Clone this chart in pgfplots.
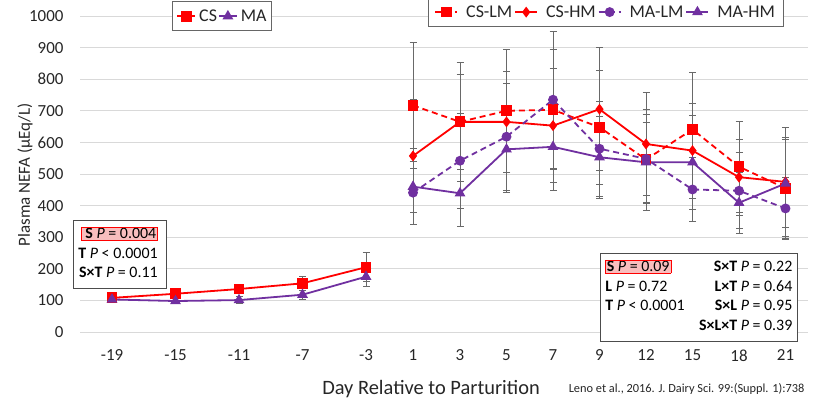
\documentclass[border=0pt]{standalone}
\usepackage{fontspec}
\setmainfont{Carlito}
\usepackage{pgfplots}
\pgfplotsset{compat=1.18}

\definecolor{csred}{RGB}{255,0,0}
\definecolor{mapurple}{RGB}{112,48,160}
\definecolor{gridgray}{RGB}{217,217,217}
\definecolor{errgray}{RGB}{105,105,105}
\definecolor{hilite}{RGB}{248,190,190}

% shared frame: 1 data unit on x = 1 px of the reference
\pgfplotsset{
  frame/.style={
    at={(80bp,75bp)}, anchor=south west,
    scale only axis, width=728bp, height=316bp,
    xmin=80, xmax=808, ymin=0, ymax=1000,
    axis line style={draw=none},
    major tick length=0pt,
    clip=false,
    legend cell align=left,
    legend style={draw=black!60, line width=0.8bp, font=\fontsize{18}{21}\selectfont,
      text=black!85, legend columns=-1, inner ysep=6bp},
  },
  legimg/.style={legend image code/.code={%
    \draw[mark repeat=2, mark phase=2, ##1] plot coordinates {(0bp,0bp) (#1/2,0bp) (#1,0bp)};}},
  errs/.style={
    error bars/.cd, y dir=both, y explicit,
    error bar style={errgray, line width=0.8bp, solid},
    error mark options={errgray, line width=0.8bp, mark size=3.5bp, rotate=90, solid},
  },
  lm/.style={dash pattern=on 6bp off 4bp},
}

\begin{document}
\begin{tikzpicture}
\path[use as bounding box] (0,0) rectangle (831bp,407bp);

% pre-partum: CS vs MA
\begin{axis}[frame,
  ymajorgrids, grid style={gridgray, line width=0.9bp},
  ytick={0,100,...,1000},
  xtick={112,175.5,239,302.5,366,413,460,506.5,553,599.5,646,692.5,739,785.5},
  xticklabels={-19,-15,-11,-7,-3,1,3,5,7,9,12,15,18,21},
  tick label style={font=\fontsize{17}{20}\selectfont, text=black!85},
  /pgf/number format/assume math mode=true,
  /pgf/number format/1000 sep={},
  yticklabel style={xshift=-13bp},
  xticklabel style={yshift=-14bp},
  legimg=18bp,
  legend style={at={(axis cs:172,952)}, anchor=south west, inner xsep=4bp,
    nodes={inner xsep=1bp}, /tikz/every odd column/.append style={column sep=2bp}},
]
\addplot[csred, line width=1.8bp, mark=square*, mark size=4.5bp, errs]
  coordinates {(112,108) +- (0,5) (175.5,121) +- (0,12) (239,136) +- (0,13)
               (302.5,154) +- (0,22) (366,205) +- (0,46)};
\addplot[mapurple, line width=1.8bp, mark=triangle*, mark size=4.5bp, errs]
  coordinates {(112,103) +- (0,6) (175.5,98) +- (0,8) (239,101) +- (0,12)
               (302.5,118) +- (0,15) (366,175) +- (0,32)};
\legend{CS, MA}
\end{axis}

% post-partum: supplement x milk yield
\begin{axis}[frame, xtick=\empty, ytick=\empty,
  legimg=22bp,
  legend style={at={(axis cs:428,965)}, anchor=south west, inner xsep=6bp,
    nodes={inner xsep=2bp}, /tikz/every odd column/.append style={column sep=6bp}},
]
\addplot[csred, line width=1.8bp, lm, mark=square*, mark size=4.5bp, mark options={solid}, errs]
  coordinates {(413,717) +- (0,200) (460,665) +- (0,187) (506.5,700) +- (0,195)
               (553,703) +- (0,190) (599.5,648) +- (0,180) (646,546) +- (0,160)
               (692.5,641) +- (0,181) (739,523) +- (0,144) (785.5,455) +- (0,160)};
\addplot[csred, line width=1.8bp, mark=diamond*, mark size=4bp, errs]
  coordinates {(413,557) +- (0,180) (460,665) +- (0,150) (506.5,665) +- (0,160)
               (553,653) +- (0,180) (599.5,705) +- (0,195) (646,595) +- (0,163)
               (692.5,574) +- (0,150) (739,490) +- (0,120) (785.5,475) +- (0,173)};
\addplot[mapurple, line width=1.8bp, lm, mark=*, mark size=4bp, mark options={solid}, errs]
  coordinates {(413,441) +- (0,100) (460,542) +- (0,150) (506.5,618) +- (0,170)
               (553,735) +- (0,216) (599.5,580) +- (0,150) (646,548) +- (0,140)
               (692.5,451) +- (0,102) (739,447) +- (0,120) (785.5,391) +- (0,97)};
\addplot[mapurple, line width=1.8bp, mark=triangle*, mark size=4.5bp, errs]
  coordinates {(413,460) +- (0,120) (460,439) +- (0,105) (506.5,578) +- (0,136)
               (553,586) +- (0,138) (599.5,553) +- (0,130) (646,537) +- (0,127)
               (692.5,537) +- (0,150) (739,409) +- (0,97) (785.5,470) +- (0,140)};
\legend{CS-LM, CS-HM, MA-LM, MA-HM}
\end{axis}

% axis titles and note
\node[rotate=90, font=\fontsize{17}{20}\selectfont, text=black!85] at (25bp,232bp) {Plasma NEFA (µEq/L)};
\node[font=\fontsize{20.5}{24}\selectfont, text=black!85] at (431bp,18bp) {Day Relative to Parturition};
\node[font=\fontsize{12.4}{14}\selectfont, text=black!85, anchor=base east] at (808bp,14.5bp) {Leno et al., 2016. J. Dairy Sci. 99:(Suppl. 1):738};

% statistics boxes
\setlength{\fboxsep}{1pt}
\node[draw=black!70, line width=0.8bp, fill=white, anchor=north west, inner sep=5bp,
      font=\fontsize{16}{19.5}\selectfont] at (73bp,187bp) {%
  \begin{tabular*}{83bp}{@{\extracolsep{\fill}}r@{}}
    \fcolorbox{csred}{hilite}{\hspace{3bp}\textbf{S} \textit{P} = 0.004}\\
    \textbf{T} \textit{P} < 0.0001\\
    \textbf{S×T} \textit{P} = 0.11
  \end{tabular*}};
\node[draw=black!70, line width=0.8bp, fill=white, anchor=north west, inner sep=5bp,
      font=\fontsize{16}{19.5}\selectfont] at (600bp,154bp) {%
  \begin{tabular*}{187bp}{@{}l@{\extracolsep{\fill}}r@{}}
    \fcolorbox{csred}{hilite}{\textbf{S} \textit{P} = 0.09} & \textbf{S×T} \textit{P} = 0.22\\
    \textbf{L} \textit{P} = 0.72 & \textbf{L×T} \textit{P} = 0.64\\
    \textbf{T} \textit{P} < 0.0001 & \textbf{S×L} \textit{P} = 0.95\\
     & \textbf{S×L×T} \textit{P} = 0.39
  \end{tabular*}};
\end{tikzpicture}
\end{document}
